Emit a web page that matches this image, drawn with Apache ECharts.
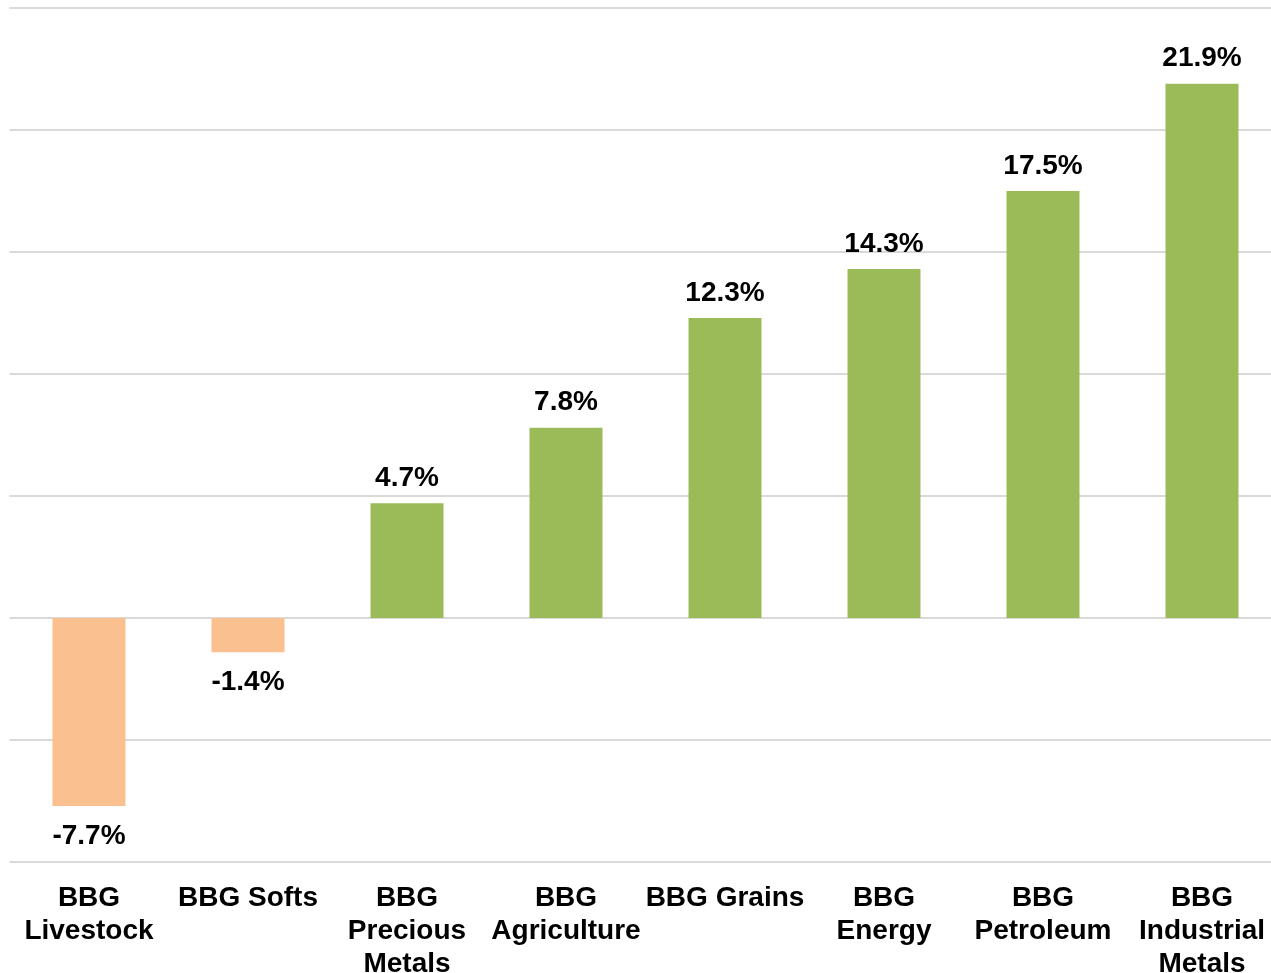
<!DOCTYPE html>
<html>
<head>
<meta charset="utf-8">
<script src="https://cdn.jsdelivr.net/npm/echarts@6/dist/echarts.min.js"></script>
<style>
html,body{margin:0;padding:0;background:#fff;}
#chart{width:1271px;height:973px;}
</style>
</head>
<body>
<div id="chart"></div>
<script>
const categories = ["BBG Livestock", "BBG Softs", "BBG Precious Metals", "BBG Agriculture", "BBG Grains", "BBG Energy", "BBG Petroleum", "BBG Industrial Metals"];
const axisLabels = ["BBG\nLivestock", "BBG Softs", "BBG\nPrecious\nMetals", "BBG\nAgriculture", "BBG Grains", "BBG\nEnergy", "BBG\nPetroleum", "BBG\nIndustrial\nMetals"];
const values = [-7.7, -1.4, 4.7, 7.8, 12.3, 14.3, 17.5, 21.9];
const yMin = -10, yMax = 25, yInterval = 5;

const POS = '#9BBB59', NEG = '#FAC090';
const font = '"Liberation Sans", Arial, sans-serif';

const chart = echarts.init(document.getElementById('chart'));
chart.setOption({
  animation: false,
  backgroundColor: '#fff',
  grid: { left: 9.5, right: -10.5, top: 8, bottom: 111, containLabel: false, outerBoundsMode: 'none' },
  xAxis: {
    type: 'category',
    data: categories,
    axisLine: { show: false },
    axisTick: { show: false },
    axisLabel: {
      interval: 0,
      margin: 20,
      color: '#000',
      fontFamily: font,
      fontWeight: 'bold',
      fontSize: 28,
      lineHeight: 33,
      formatter: (v, i) => axisLabels[i]
    }
  },
  yAxis: {
    type: 'value',
    min: yMin, max: yMax, interval: yInterval,
    axisLabel: { show: false },
    axisLine: { show: false },
    axisTick: { show: false },
    splitLine: { lineStyle: { color: '#D9D9D9', width: 2 } }
  },
  series: [{
    type: 'bar',
    barWidth: 73,
    data: values.map(v => ({
      value: v,
      itemStyle: { color: v < 0 ? NEG : POS },
      label: { position: v < 0 ? 'bottom' : 'top', distance: v < 0 ? 16 : 11 }
    })),
    label: {
      show: true,
      color: '#000',
      fontFamily: font,
      fontWeight: 'bold',
      fontSize: 28,
      formatter: p => p.value.toFixed(1) + '%'
    }
  }]
});
</script>
</body>
</html>
